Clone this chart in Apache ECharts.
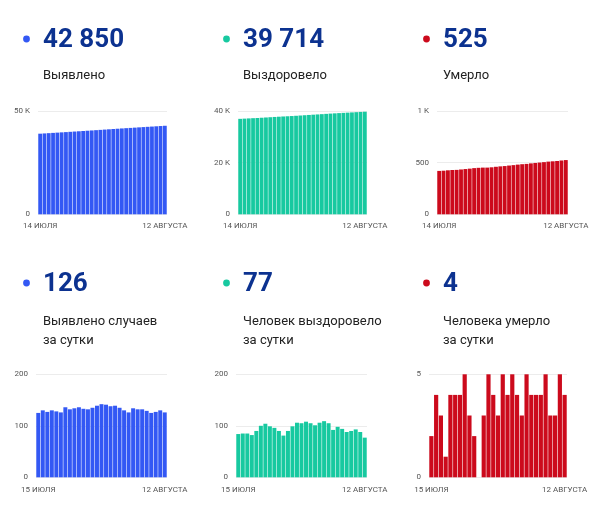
<!DOCTYPE html>
<html>
<head>
<meta charset="utf-8">
<script src="https://cdn.jsdelivr.net/npm/echarts@6/dist/echarts.min.js"></script>
<style>
  html, body { margin: 0; padding: 0; background: #fff; }
  #main { width: 600px; height: 513px; }
</style>
</head>
<body>
<div id="main"></div>
<script>
// dates (top row starts 14 July, bottom row 15 July)
const topDates = ['14 ИЮЛЯ', '15 ИЮЛЯ', '16 ИЮЛЯ', '17 ИЮЛЯ', '18 ИЮЛЯ', '19 ИЮЛЯ', '20 ИЮЛЯ', '21 ИЮЛЯ',
  '22 ИЮЛЯ', '23 ИЮЛЯ', '24 ИЮЛЯ', '25 ИЮЛЯ', '26 ИЮЛЯ', '27 ИЮЛЯ', '28 ИЮЛЯ', '29 ИЮЛЯ', '30 ИЮЛЯ',
  '31 ИЮЛЯ', '1 АВГУСТА', '2 АВГУСТА', '3 АВГУСТА', '4 АВГУСТА', '5 АВГУСТА', '6 АВГУСТА', '7 АВГУСТА',
  '8 АВГУСТА', '9 АВГУСТА', '10 АВГУСТА', '11 АВГУСТА', '12 АВГУСТА'];
const bottomDates = topDates.slice(1);

// cumulative
const totalCases = [39021, 39146, 39276, 39403, 39533, 39661, 39787, 39923, 40055, 40189,
  40325, 40458, 40590, 40725, 40864, 41006, 41147, 41285, 41424, 41559,
  41689, 41815, 41949, 42081, 42213, 42342, 42467, 42594, 42724, 42850];
const totalRecovered = [36964, 37048, 37133, 37218, 37300, 37390, 37490, 37594, 37693, 37789,
  37879, 37960, 38050, 38149, 38255, 38360, 38468, 38573, 38674, 38780,
  38889, 38994, 39086, 39184, 39278, 39366, 39456, 39549, 39637, 39714];
const totalDeaths = [420, 422, 426, 429, 430, 434, 438, 442, 447, 450,
  452, 452, 455, 460, 464, 467, 472, 476, 481, 485,
  488, 493, 497, 501, 505, 510, 513, 516, 521, 525];

// per day
const dailyCases = [125, 130, 127, 130, 128, 126, 136, 132, 134, 136, 133, 132, 135, 139, 142,
  141, 138, 139, 135, 130, 126, 134, 132, 132, 129, 125, 127, 130, 126];
const dailyRecovered = [84, 85, 85, 82, 90, 100, 104, 99, 96, 90, 81, 90, 99, 106, 105,
  108, 105, 101, 106, 109, 105, 92, 98, 94, 88, 90, 93, 88, 77];
const dailyDeaths = [2, 4, 3, 1, 4, 4, 4, 5, 3, 2, 0, 3, 5, 4, 3,
  5, 4, 5, 4, 3, 5, 4, 4, 4, 5, 3, 3, 5, 4];

const headerValues = ['42 850', '39 714', '525', '126', '77', '4'];
const headerLabels = ['Выявлено', 'Выздоровело', 'Умерло',
  'Выявлено случаев\nза сутки', 'Человек выздоровело\nза сутки', 'Человека умерло\nза сутки'];

const BLUE = '#3358f4';
const GREEN = '#17c9a0';
const RED = '#cc0a1c';
const FONT = 'Roboto';

const panels = [
  { col: 0, row: 0, left: 38, width: 129, max: 50000, interval: 50000, dates: topDates, data: totalCases, color: BLUE },
  { col: 1, row: 0, left: 238, width: 129, max: 40000, interval: 20000, dates: topDates, data: totalRecovered, color: GREEN },
  { col: 2, row: 0, left: 437, width: 131, max: 1000, interval: 500, dates: topDates, data: totalDeaths, color: RED },
  { col: 0, row: 1, left: 36, width: 131, max: 200, interval: 100, dates: bottomDates, data: dailyCases, color: BLUE },
  { col: 1, row: 1, left: 236, width: 131, max: 200, interval: 100, dates: bottomDates, data: dailyRecovered, color: GREEN },
  { col: 2, row: 1, left: 429, width: 138, max: 5, interval: 5, dates: bottomDates, data: dailyDeaths, color: RED }
];

const rowTop = [111, 374.3];
const rowHeight = [103.3, 103];
const xLabelMargin = [8, 9];
const numY = [40, 284];
const labelY = [75, 321];

function fmtK(v) {
  if (v >= 1000) return (v / 1000) + ' K';
  return String(v);
}

let chart = echarts.init(document.getElementById('main'), null, { renderer: 'canvas' });

let grids = [], xAxes = [], yAxes = [], series = [], graphics = [];

panels.forEach((p, i) => {
  grids.push({ left: p.left, top: rowTop[p.row], width: p.width, height: rowHeight[p.row] });
  const last = p.dates.length - 1;
  xAxes.push({
    type: 'category',
    gridIndex: i,
    data: p.dates,
    axisLine: { show: false },
    axisTick: { show: false },
    axisLabel: {
      interval: (idx) => idx === 0 || idx === last,
      margin: xLabelMargin[p.row],
      color: '#555',
      fontSize: 8,
      fontFamily: FONT
    }
  });
  yAxes.push({
    type: 'value',
    gridIndex: i,
    min: 0,
    max: p.max,
    interval: p.interval,
    axisLine: { show: false },
    axisTick: { show: false },
    splitLine: { lineStyle: { color: '#ececec', width: 1 } },
    axisLabel: {
      formatter: fmtK,
      margin: 8,
      color: '#555',
      fontSize: 8,
      fontFamily: FONT
    }
  });
  series.push({
    type: 'bar',
    xAxisIndex: i,
    yAxisIndex: i,
    data: p.data,
    barCategoryGap: '12%',
    itemStyle: { color: p.color },
    silent: true
  });

  const x0 = p.col * 200;
  graphics.push({
    type: 'circle',
    shape: { cx: x0 + 26.5, cy: numY[p.row] - 1, r: 3.4 },
    style: { fill: p.color }
  });
  graphics.push({
    type: 'text',
    x: x0 + 43,
    y: numY[p.row],
    style: {
      text: headerValues[i],
      fill: '#0c3290',
      font: 'bold 26px ' + FONT,
      verticalAlign: 'middle'
    }
  });
  graphics.push({
    type: 'text',
    x: x0 + 43,
    y: labelY[p.row],
    style: {
      text: headerLabels[i],
      fill: '#222',
      font: '13px ' + FONT,
      lineHeight: 19,
      verticalAlign: 'top',
      y: -9
    }
  });
});

let option = {
  backgroundColor: '#fff',
  animation: false,
  grid: grids,
  xAxis: xAxes,
  yAxis: yAxes,
  series: series,
  graphic: graphics
};

chart.setOption(option);
</script>
</body>
</html>
